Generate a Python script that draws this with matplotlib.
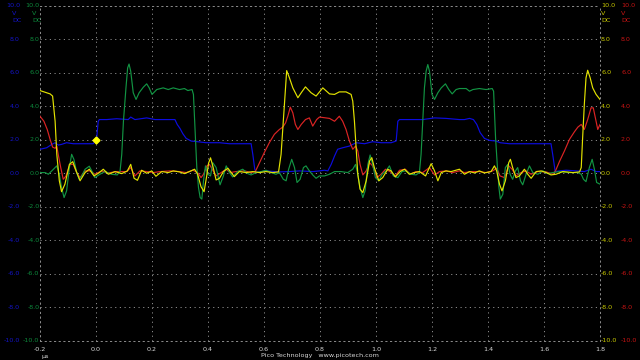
import matplotlib
matplotlib.use("Agg")
import matplotlib.pyplot as plt
import matplotlib.transforms as mtransforms

# ---------------- data (time in µs, volts) ----------------
blue_t = [-0.2, -0.176, -0.158, -0.146, -0.135, -0.123, -0.105, -0.081, -0.057, -0.01, 0.002, 0.008,
          0.012, 0.038, 0.074, 0.115, 0.124, 0.139, 0.181, 0.211, 0.252, 0.282, 0.29, 0.3,
          0.31, 0.322, 0.34, 0.363, 0.393, 0.441, 0.477, 0.512, 0.554, 0.56, 0.567, 0.572,
          0.607, 0.655, 0.691, 0.727, 0.774, 0.798, 0.816, 0.828, 0.84, 0.852, 0.863, 0.881,
          0.905, 0.929, 0.959, 0.988, 1.018, 1.054, 1.072, 1.078, 1.084, 1.119, 1.167, 1.209,
          1.25, 1.298, 1.316, 1.334, 1.348, 1.36, 1.372, 1.387, 1.405, 1.429, 1.443, 1.477,
          1.536, 1.596, 1.625, 1.631, 1.64, 1.655, 1.679, 1.715, 1.744, 1.768, 1.786, 1.8]
blue_v = [1.43, 1.52, 1.72, 1.82, 1.68, 1.72, 1.82, 1.76, 1.76, 1.76, 2.02, 3.1,
          3.2, 3.2, 3.25, 3.2, 3.35, 3.2, 3.3, 3.2, 3.2, 3.2, 2.91, 2.67,
          2.36, 2.08, 1.92, 1.88, 1.82, 1.82, 1.76, 1.76, 1.76, 1.13, 0.24, 0.04,
          0.14, 0.08, 0.1, 0.14, 0.1, 0.14, 0.18, 0.14, 0.53, 1.03, 1.43, 1.52,
          1.62, 1.82, 1.76, 1.88, 1.82, 1.82, 1.92, 3.1, 3.2, 3.2, 3.2, 3.3,
          3.27, 3.2, 3.2, 3.27, 3.2, 2.91, 2.42, 2.08, 1.96, 1.92, 1.82, 1.76,
          1.76, 1.76, 1.76, 1.13, 0.1, 0.14, 0.18, 0.14, 0.1, 0.24, 0.1, 0.1]

green_t = [-0.2, -0.182, -0.17, -0.152, -0.14, -0.131, -0.123, -0.114, -0.105, -0.095, -0.087, -0.079,
           -0.069, -0.06, -0.051, -0.039, -0.024, -0.012, -0.004, 0.014, 0.032, 0.056, 0.076, 0.086,
           0.092, 0.098, 0.107, 0.113, 0.118, 0.124, 0.133, 0.143, 0.154, 0.169, 0.181, 0.19,
           0.2, 0.217, 0.24, 0.258, 0.276, 0.298, 0.316, 0.328, 0.343, 0.348, 0.355, 0.36,
           0.366, 0.372, 0.378, 0.384, 0.391, 0.399, 0.409, 0.417, 0.429, 0.443, 0.455, 0.465,
           0.477, 0.488, 0.506, 0.524, 0.542, 0.554, 0.572, 0.59, 0.607, 0.625, 0.643, 0.655,
           0.669, 0.679, 0.688, 0.699, 0.709, 0.718, 0.729, 0.741, 0.75, 0.762, 0.774, 0.786,
           0.798, 0.816, 0.834, 0.852, 0.875, 0.899, 0.917, 0.927, 0.935, 0.943, 0.953, 0.961,
           0.971, 0.979, 0.988, 0.998, 1.01, 1.022, 1.036, 1.048, 1.062, 1.078, 1.093, 1.107,
           1.125, 1.143, 1.155, 1.161, 1.167, 1.173, 1.179, 1.185, 1.191, 1.2, 1.209, 1.221,
           1.233, 1.248, 1.26, 1.272, 1.286, 1.298, 1.322, 1.334, 1.346, 1.369, 1.393, 1.415,
           1.42, 1.427, 1.433, 1.439, 1.444, 1.453, 1.462, 1.471, 1.479, 1.488, 1.498, 1.506,
           1.516, 1.524, 1.536, 1.548, 1.56, 1.578, 1.596, 1.614, 1.631, 1.655, 1.691, 1.721,
           1.733, 1.741, 1.75, 1.762, 1.772, 1.78, 1.788, 1.8]
green_v = [0.04, 0.04, -0.06, 0.24, 0.44, -0.06, -0.85, -1.45, -1.05, 0.34, 1.13, 0.83,
           0.04, -0.36, -0.16, 0.24, 0.42, 0.04, -0.26, -0.06, 0.1, -0.06, -0.1, 0.14,
           1.13, 3.1, 5.09, 6.28, 6.51, 6.08, 4.8, 4.4, 4.8, 5.13, 5.33, 5.09,
           4.7, 4.99, 5.09, 4.99, 5.09, 4.99, 5.05, 4.93, 4.99, 4.7, 2.12, 0.34,
           -0.85, -1.45, -1.54, -0.45, 0.44, -0.06, -0.16, 0.63, 0.34, -0.69, -0.16, 0.44,
           0.04, -0.22, 0.1, 0.24, -0.02, -0.1, 0.04, 0.1, 0.18, 0.04, -0.06, 0.04,
           -0.36, -0.45, 0.24, 0.83, 0.34, -0.55, -0.36, 0.34, 0.44, 0.14, -0.1, -0.3,
           -0.16, -0.16, -0.06, 0.1, 0.1, 0.04, 0.24, 0.53, -0.06, -0.85, -1.45, -1.05,
           0.53, 1.09, 0.53, -0.26, -0.45, -0.06, 0.14, 0.44, -0.16, -0.26, 0.1, 0.14,
           -0.06, -0.1, 0.04, 1.13, 3.1, 5.09, 6.08, 6.48, 6.08, 4.7, 4.4, 4.8,
           5.09, 5.33, 4.99, 4.73, 4.99, 5.05, 5.05, 4.89, 4.99, 5.05, 4.99, 5.05,
           4.89, 2.12, 0.53, -0.85, -1.54, -1.25, 0.34, 0.53, -0.06, -0.36, 0.14, 0.34,
           -0.45, -0.69, -0.06, 0.44, 0.04, -0.06, 0.14, -0.02, 0.04, 0.1, 0.04, 0.04,
           -0.06, -0.36, -0.5, 0.34, 0.83, 0.24, -0.55, -0.65]

yellow_t = [-0.2, -0.164, -0.155, -0.146, -0.14, -0.131, -0.123, -0.111, -0.095, -0.083, -0.071, -0.057,
            -0.039, -0.024, -0.007, 0.012, 0.026, 0.044, 0.068, 0.092, 0.112, 0.124, 0.136, 0.148,
            0.163, 0.181, 0.199, 0.214, 0.235, 0.258, 0.276, 0.298, 0.316, 0.334, 0.352, 0.363,
            0.375, 0.386, 0.395, 0.402, 0.409, 0.417, 0.429, 0.441, 0.455, 0.471, 0.483, 0.494,
            0.512, 0.536, 0.56, 0.584, 0.607, 0.631, 0.652, 0.661, 0.673, 0.681, 0.691, 0.703,
            0.721, 0.733, 0.748, 0.768, 0.786, 0.81, 0.834, 0.852, 0.869, 0.893, 0.911, 0.917,
            0.923, 0.929, 0.935, 0.943, 0.953, 0.965, 0.977, 0.985, 0.994, 1.01, 1.024, 1.042,
            1.054, 1.069, 1.086, 1.102, 1.119, 1.137, 1.155, 1.177, 1.197, 1.209, 1.221, 1.233,
            1.25, 1.268, 1.298, 1.316, 1.334, 1.352, 1.369, 1.387, 1.411, 1.423, 1.431, 1.441,
            1.45, 1.462, 1.474, 1.48, 1.488, 1.5, 1.512, 1.53, 1.542, 1.554, 1.572, 1.59,
            1.608, 1.625, 1.643, 1.667, 1.703, 1.727, 1.733, 1.738, 1.744, 1.75, 1.756, 1.765,
            1.774, 1.786, 1.8]
yellow_v = [4.93, 4.73, 4.6, 3.1, 1.13, -0.45, -1.1, -0.65, 0.53, 0.69, 0.14, -0.45,
            0.04, 0.24, -0.16, 0.04, 0.24, -0.06, 0.1, -0.02, 0.14, 0.53, -0.3, -0.42,
            0.18, 0.0, 0.14, -0.18, 0.1, 0.04, 0.14, 0.08, -0.02, 0.1, 0.24, -0.06,
            -0.8, -1.1, -0.2, 0.6, 0.92, 0.44, -0.4, -0.3, 0.1, 0.3, 0.04, -0.2,
            0.1, 0.04, 0.1, 0.04, 0.1, 0.04, 0.08, 1.13, 4.1, 6.12, 5.68, 5.09,
            4.5, 4.8, 5.15, 4.8, 4.6, 5.09, 4.73, 4.7, 4.85, 4.85, 4.7, 4.3,
            3.1, 1.52, -0.06, -0.95, -1.15, -0.45, 0.73, 0.93, 0.34, -0.45, -0.26, 0.24,
            0.14, -0.22, 0.1, 0.24, -0.06, 0.04, 0.1, -0.16, 0.57, 0.14, -0.45, 0.04,
            0.14, 0.1, 0.24, -0.06, 0.1, 0.02, 0.14, 0.02, 0.1, 0.44, 0.14, -0.65,
            -1.05, -0.45, 0.63, 0.83, 0.34, -0.26, -0.16, 0.24, -0.06, -0.3, 0.1, 0.14,
            0.04, -0.1, -0.06, 0.1, 0.04, 0.08, 0.34, 2.12, 4.1, 5.68, 6.14, 5.68,
            5.09, 4.7, 4.4]

red_t = [-0.2, -0.186, -0.174, -0.164, -0.155, -0.146, -0.14, -0.135, -0.126, -0.117, -0.107, -0.093,
         -0.081, -0.069, -0.057, -0.039, -0.021, -0.004, 0.02, 0.044, 0.074, 0.11, 0.124, 0.139,
         0.157, 0.181, 0.205, 0.229, 0.264, 0.298, 0.322, 0.346, 0.363, 0.375, 0.384, 0.396,
         0.405, 0.415, 0.429, 0.447, 0.465, 0.479, 0.5, 0.53, 0.554, 0.569, 0.584, 0.601,
         0.619, 0.637, 0.655, 0.667, 0.677, 0.685, 0.694, 0.703, 0.712, 0.721, 0.733, 0.748,
         0.762, 0.774, 0.788, 0.798, 0.834, 0.852, 0.869, 0.881, 0.893, 0.905, 0.917, 0.927,
         0.935, 0.943, 0.953, 0.965, 0.977, 0.988, 1.003, 1.018, 1.034, 1.05, 1.069, 1.084,
         1.105, 1.122, 1.143, 1.167, 1.191, 1.209, 1.227, 1.25, 1.274, 1.298, 1.316, 1.34,
         1.369, 1.393, 1.417, 1.431, 1.443, 1.459, 1.474, 1.486, 1.5, 1.518, 1.536, 1.554,
         1.578, 1.608, 1.631, 1.641, 1.655, 1.673, 1.691, 1.709, 1.721, 1.733, 1.744, 1.756,
         1.768, 1.776, 1.786, 1.792, 1.8]
red_v = [3.4, 3.1, 2.6, 2.02, 1.56, 1.49, 1.62, 1.13, 0.34, -0.36, -0.16, 0.53,
         0.53, 0.04, -0.26, 0.14, 0.14, -0.06, 0.14, 0.02, 0.1, 0.1, 0.34, -0.16,
         0.14, 0.1, 0.04, 0.1, 0.14, 0.1, 0.04, 0.18, 0.04, -0.26, -0.06, 0.44,
         0.53, 0.24, -0.16, 0.04, 0.24, 0.04, 0.1, 0.14, 0.04, 0.1, 0.63, 1.23,
         1.82, 2.32, 2.61, 2.75, 3.0, 3.4, 3.94, 3.6, 2.91, 2.61, 2.91, 3.2,
         3.3, 2.81, 3.2, 3.35, 3.27, 3.1, 3.4, 3.1, 2.61, 1.92, 1.43, 1.62,
         1.33, 0.53, -0.1, 0.14, 0.63, 0.44, -0.26, -0.06, 0.24, 0.1, -0.16, 0.18,
         0.24, -0.06, 0.1, 0.04, 0.34, -0.1, 0.1, 0.14, 0.04, 0.14, 0.04, 0.1,
         0.1, 0.04, 0.14, 0.3, -0.16, -0.26, 0.44, 0.24, -0.16, 0.04, 0.14, -0.06,
         0.1, 0.08, -0.06, 0.14, 0.69, 1.33, 2.02, 2.48, 2.75, 2.91, 2.61, 3.2,
         3.9, 3.9, 3.1, 2.61, 2.91]

trigger_t = [0.0]
trigger_v = [2.0]

x_ticks = [-0.2, 0.0, 0.2, 0.4, 0.6, 0.8, 1.0, 1.2, 1.4, 1.6, 1.8]
y_ticks = [10, 8, 6, 4, 2, 0, -2, -4, -6, -8, -10]

# ---------------- styling ----------------
W, H = 640, 360
fig = plt.figure(figsize=(6.4, 3.6), dpi=100, facecolor="black")
ax = fig.add_axes([40 / W, 19 / H, 560 / W, 335.5 / H], facecolor="black")

c_blue, c_green, c_yellow, c_red = "#0c0ce0", "#129443", "#e2e200", "#dc2424"
l_blue, l_green, l_yellow, l_red = "#1414c8", "#0d8a3c", "#c8c800", "#c81414"
grid_c = "#8c8c8c"
fs = 4.6
lw = 0.85

ax.plot(blue_t, blue_v, color=c_blue, lw=lw, zorder=3)
ax.plot(red_t, red_v, color=c_red, lw=lw, zorder=4)
ax.plot(green_t, green_v, color=c_green, lw=lw, zorder=5)
ax.plot(yellow_t, yellow_v, color=c_yellow, lw=lw, zorder=6)
ax.plot(trigger_t, trigger_v, marker="D", color="#ffff00", markersize=3.5, ls="none", zorder=7)

ax.set_xlim(-0.2, 1.8)
ax.set_ylim(-10, 10)
ax.set_xticks(x_ticks)
ax.set_xticklabels([f"{v:.1f}" for v in x_ticks])
ax.set_yticks(y_ticks)
ax.tick_params(axis="x", length=0, pad=4, labelsize=fs, labelcolor="#d8d8d8")
ax.tick_params(axis="y", length=0, labelleft=False)
ax.grid(True, color=grid_c, ls=(0, (1.2, 3.6)), lw=0.7)
for s in ax.spines.values():
    s.set_color(grid_c)
    s.set_linestyle((0, (1.2, 3.6)))
    s.set_linewidth(0.7)

# channel scale labels
tr = mtransforms.blended_transform_factory(fig.transFigure, ax.transData)
for v in y_ticks:
    lab = f"{v:.1f}"
    ax.text(20 / W, v, lab, transform=tr, ha="right", va="center", fontsize=fs, color=l_blue, clip_on=False)
    ax.text(39.5 / W, v, lab, transform=tr, ha="right", va="center", fontsize=fs, color=l_green, clip_on=False)
    ax.text(601 / W, v, lab, transform=tr, ha="left", va="center", fontsize=fs, color=l_yellow, clip_on=False)
    ax.text(621 / W, v, lab, transform=tr, ha="left", va="center", fontsize=fs, color=l_red, clip_on=False)

for xpix, col in [(12, l_blue), (32, l_green), (601, l_yellow), (621, l_red)]:
    fig.text(xpix / W, 1 - 13.3 / H, "V", ha="left", va="center", fontsize=fs, color=col)
    fig.text(xpix / W, 1 - 20.5 / H, "DC", ha="left", va="center", fontsize=fs, color=col)

fig.text(41 / W, 1 - 356.5 / H, "µs", ha="left", va="center", fontsize=fs, color="#d8d8d8")
fig.text(320 / W, 1 - 355.5 / H, "Pico Technology   www.picotech.com", ha="center", va="center",
         fontsize=fs, color="#d8d8d8")

fig.savefig("out.png", dpi=100, facecolor="black")
